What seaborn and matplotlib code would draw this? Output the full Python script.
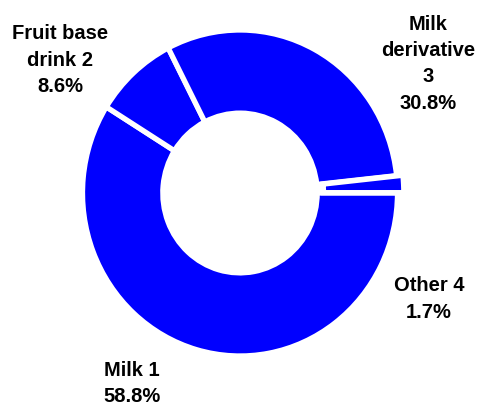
import matplotlib
matplotlib.use("Agg")
import matplotlib.pyplot as plt
import seaborn as sns

# slice data, clockwise from 3 o'clock
categories = ["Milk 1", "Fruit base\ndrink 2", "Milk\nderivative\n3", "Other 4"]
shares = [58.8, 8.6, 30.8, 1.7]
explode = [0, 0, 0, 0.04]

# label anchor points (figure fraction)
label_xy = [(0.276, 0.062), (0.125, 0.853), (0.894, 0.844), (0.896, 0.269)]

sns.set_theme(style="white")
plt.rcParams["font.family"] = ["Liberation Sans", "DejaVu Sans"]

W, H = 479, 409
fig = plt.figure(figsize=(W / 100, H / 100), dpi=100)
ax = fig.add_axes([0, 0, 1, 1])

# pixel scale per unit radius (slightly squashed horizontally, as in the original)
Rx, Ry = 157.5, 163.0
cx, cy = 240, 409 - 193
ax.pie(shares, explode=explode, startangle=0, counterclock=False,
       colors=["#0000ff"] * len(shares), radius=1.0,
       wedgeprops=dict(width=0.51, edgecolor="white", linewidth=3.8))
ax.set_aspect("auto")
ax.set_xlim(-cx / Rx, (W - cx) / Rx)
ax.set_ylim(-cy / Ry, (H - cy) / Ry)
ax.axis("off")

for name, v, (x, y) in zip(categories, shares, label_xy):
    fig.text(x, y, f"{name}\n{v:.1f}%", ha="center", va="center",
             fontsize=14.5, fontweight="bold", color="black", linespacing=1.48)

fig.savefig("out.png", dpi=100, facecolor="white")
